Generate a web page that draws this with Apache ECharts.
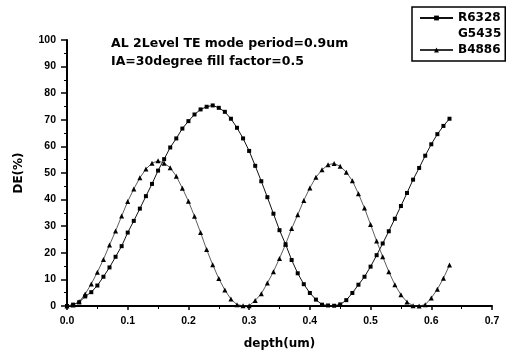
<!DOCTYPE html>
<html><head><meta charset="utf-8">
<script src="https://cdn.jsdelivr.net/npm/echarts@6/dist/echarts.min.js"></script>
<style>html,body{margin:0;padding:0;background:#fff}#c{width:517px;height:355px}</style>
</head><body><div id="c"></div>
<script>
var depth = [];
for (var i = 0; i <= 63; i++) depth.push(+(i * 0.01).toFixed(2));
var R6328 = [0,0.5,1.4,3.6,5.2,7.7,11,14.5,18.5,22.5,27.6,32,36.6,41.3,45.9,50.9,55.2,59.6,63,66.7,69.5,72,73.9,74.9,75.4,74.5,73,70.4,67,63,58.3,52.7,46.9,40.9,34.7,28.5,23.2,17.3,12.3,8.2,4.9,2.4,0.5,0.2,0.1,0.6,2.2,4.9,8,11,14.8,19.1,23.5,28.1,32.8,37.6,42.5,47.5,51.9,56.5,60.8,64.6,67.7,70.4];
var G5435 = [];
var B4886 = [0,0.4,1.6,4.5,8.3,12.7,17.5,22.9,28.2,33.8,39.3,44,48.2,51.5,53.7,54.6,53.7,52,48.8,44.3,39.4,33.7,27.6,21.2,15.5,10.3,6,2.6,0.5,0.1,0.1,2.1,4.6,8.6,12.9,17.9,23.2,29.1,34.3,39.7,44.4,48.4,51.2,53.1,53.6,52.5,50.3,47.1,42.2,36.8,30.6,24.4,18.5,12.9,8,4.2,1.5,0.1,0,0.5,3,6.3,10.4,15.4];
var titleLines = ['AL 2Level TE mode period=0.9um', 'IA=30degree fill factor=0.5'];

function pairs(v){ return v.map(function(y,i){ return [depth[i], y]; }); }
var chart = echarts.init(document.getElementById('c'));
var font = 'Liberation Sans, Arial, sans-serif';
var wfont = 'DejaVu Sans, sans-serif';
chart.setOption({
  animation: false,
  backgroundColor: '#fff',
  grid: {left: 67, right: 25, top: 40, bottom: 47},
  graphic: [
    {type:'text', left: 111, top: 37, style:{text: titleLines[0], font: 'bold 12.5px ' + wfont, fill:'#000'}},
    {type:'text', left: 111, top: 55, style:{text: titleLines[1], font: 'bold 12.5px ' + wfont, fill:'#000'}}
  ],
  legend: {
    orient: 'vertical', left: 412, top: 7,
    borderColor: '#000', borderWidth: 1.5, padding: [5, 4, 5, 7], itemGap: 4,
    itemWidth: 33, itemHeight: 6,
    textStyle: {fontFamily: wfont, fontWeight: 'bold', fontSize: 12, color: '#000'},
    data: ['R6328', 'G5435', 'B4886']
  },
  xAxis: {
    type: 'value', min: 0, max: 0.7, interval: 0.1,
    name: 'depth(um)', nameLocation: 'middle', nameGap: 32,
    nameTextStyle: {fontFamily: wfont, fontWeight: 'bold', fontSize: 12, color: '#000'},
    axisLine: {lineStyle: {color: '#000', width: 2}},
    axisTick: {length: 4, lineStyle: {color: '#000', width: 1.5}},
    minorTick: {show: true, splitNumber: 2, length: 3, lineStyle: {color: '#000'}},
    splitLine: {show: false},
    axisLabel: {fontFamily: font, fontWeight: 'bold', fontSize: 10.5, color: '#000', margin: 10,
      formatter: function(v){ return v.toFixed(1); }}
  },
  yAxis: {
    type: 'value', min: 0, max: 100, interval: 10,
    name: 'DE(%)', nameLocation: 'middle', nameGap: 42,
    nameTextStyle: {fontFamily: wfont, fontWeight: 'bold', fontSize: 12, color: '#000'},
    axisLine: {show: true, lineStyle: {color: '#000', width: 2}},
    axisTick: {show: true, length: 6, lineStyle: {color: '#000', width: 1.5}},
    minorTick: {show: true, splitNumber: 2, length: 3, lineStyle: {color: '#000'}},
    splitLine: {show: false},
    axisLabel: {fontFamily: font, fontWeight: 'bold', fontSize: 10.5, color: '#000', margin: 11}
  },
  series: [
    {name: 'R6328', type: 'line', data: pairs(R6328), symbol: 'rect', symbolSize: 4,
     showAllSymbol: true, lineStyle: {color: '#111', width: 1}, itemStyle: {color: '#000'}},
    {name: 'G5435', type: 'line', data: pairs(G5435), symbol: 'none',
     lineStyle: {color: 'rgba(0,0,0,0)', width: 0}, itemStyle: {color: 'rgba(0,0,0,0)'}},
    {name: 'B4886', type: 'line', data: pairs(B4886), symbol: 'triangle', symbolSize: 5,
     showAllSymbol: true, lineStyle: {color: '#333', width: 0.8}, itemStyle: {color: '#000'}}
  ]
});
</script></body></html>
